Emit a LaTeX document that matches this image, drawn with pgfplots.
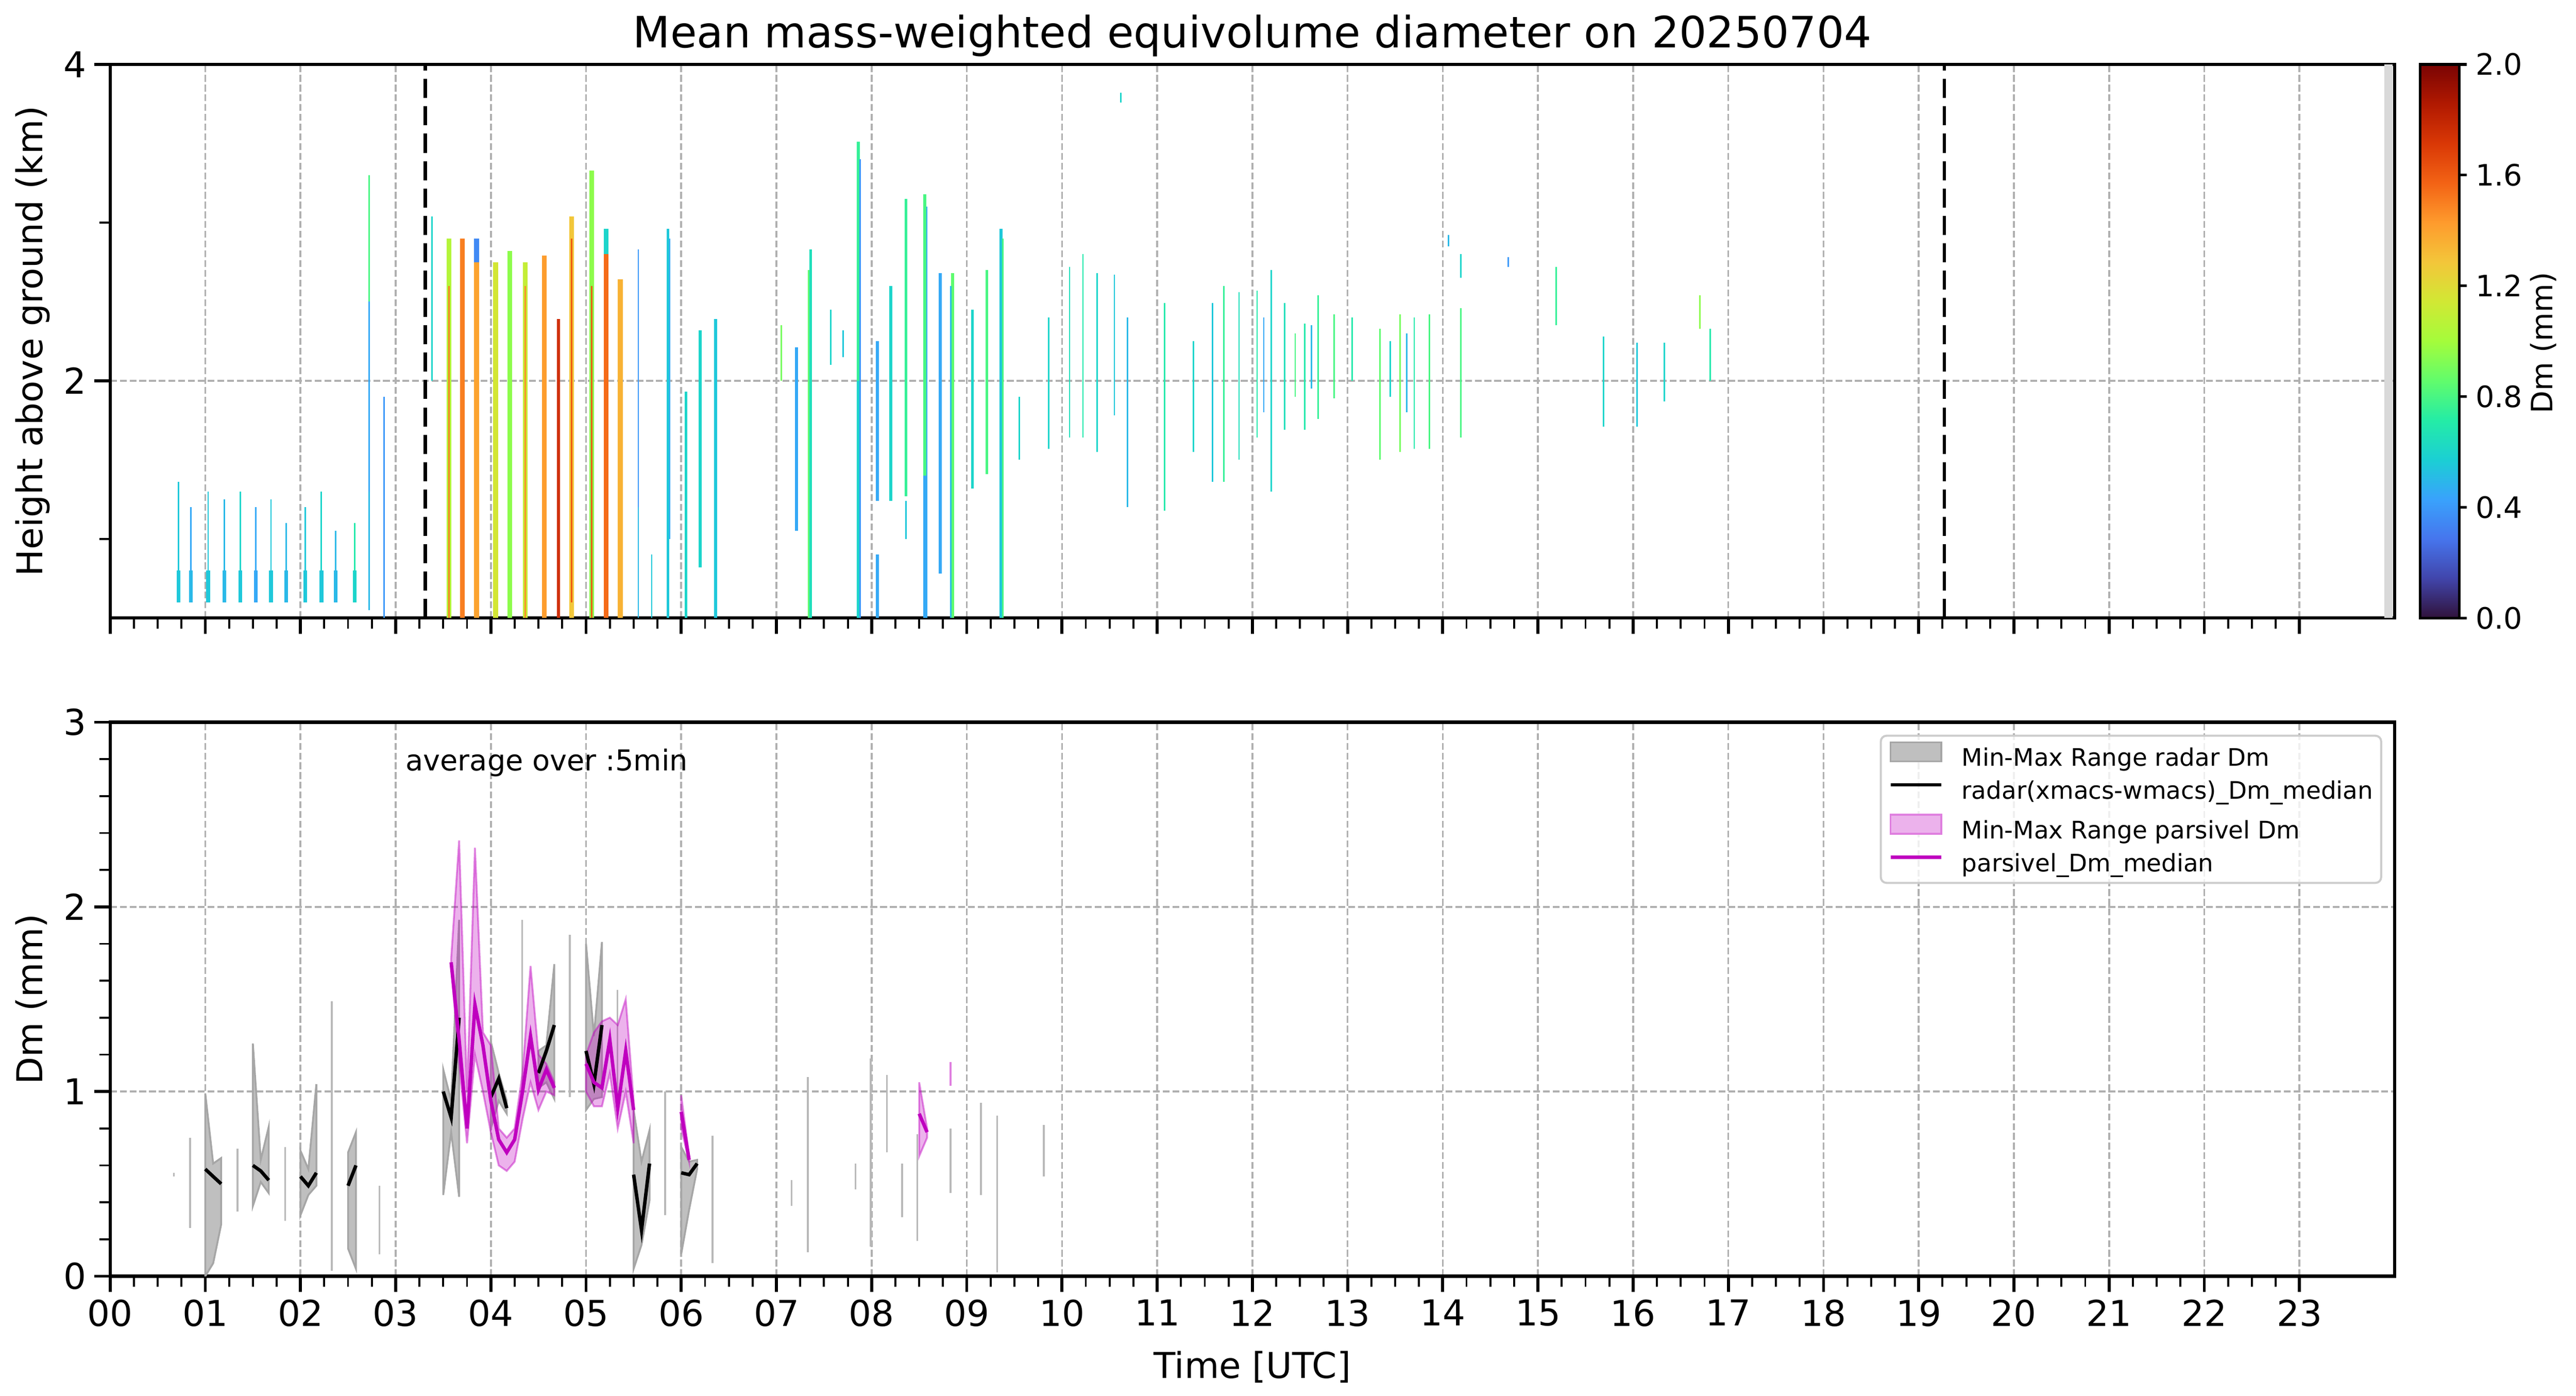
\documentclass[border=0pt]{standalone}
\usepackage{fontspec}
\setmainfont{DejaVu Sans}
\usepackage{pgfplots}
\pgfplotsset{compat=1.18}
\definecolor{gridgray}{RGB}{176,176,176}
\definecolor{radarfill}{RGB}{191,191,191}
\definecolor{radaredge}{RGB}{166,166,166}
\definecolor{singlegray}{RGB}{185,185,185}
\definecolor{mag}{RGB}{191,0,191}
\definecolor{pinkfill}{RGB}{236,178,236}
\definecolor{pinkedge}{RGB}{223,127,223}
\definecolor{stripgray}{RGB}{217,217,217}
\definecolor{legendedge}{RGB}{204,204,204}
\pgfplotsset{
  colormap={turbo}{rgb255=(48,18,59) rgb255=(65,69,171) rgb255=(70,117,237) rgb255=(57,162,252) rgb255=(27,207,212) rgb255=(36,236,166) rgb255=(97,252,108) rgb255=(164,252,59) rgb255=(209,232,52) rgb255=(243,198,58) rgb255=(254,155,45) rgb255=(243,99,21) rgb255=(217,56,6) rgb255=(177,25,1) rgb255=(122,4,3)},
  common/.style={
    scale only axis, width=993.70pt, xmin=0, xmax=24,
    xtick={0,...,23}, minor x tick num=3,
    tick align=outside, xtick pos=left, ytick pos=left,
    major tick length=6.78pt, minor tick length=4.67pt,
    every major tick/.append style={line width=1.3pt, black},
    every minor tick/.append style={line width=0.86pt, black},
    axis line style={line width=1.36pt},
    grid=major,
    major grid style={line width=0.8pt, color=gridgray, dash pattern=on 2.96pt off 1.28pt},
    tick label style={font=\fontsize{15.5}{18.6}\selectfont},
    label style={font=\fontsize{15.5}{18.6}\selectfont},
    /pgf/number format/assume math mode=true,
    ylabel style={at={(axis description cs:-0.0295,0.5)}, anchor=base},
  },
  streak/.style={forget plot, point meta=explicit,
    quiver={u=0, v=\thisrow{y1}-\thisrow{y0}, colored=mapped color,
      every arrow/.append style={-, line cap=butt}}},
  rpoly/.style={forget plot, fill=radarfill, draw=radaredge, line width=0.8pt},
  ppoly/.style={forget plot, fill=mag, fill opacity=0.3, draw=mag, draw opacity=0.45, line width=0.8pt},
  rmed/.style={forget plot, black, line width=1.5pt},
  pmed/.style={forget plot, mag, line width=1.5pt},
}
\begin{document}
\begin{tikzpicture}
\useasboundingbox (0pt,0pt) rectangle (1120.47pt,-606.91pt);
% ---------------- top panel ----------------
\begin{axis}[common, at={(47.88pt,-28.00pt)}, anchor=north west, height=240.75pt,
  ymin=0.5, ymax=4, ytick={2,4}, minor ytick={1,3}, xticklabels={},
  ylabel={Height above ground (km)},
  title={Mean mass-weighted equivolume diameter on 20250704},
  title style={font=\fontsize{18.8}{22}\selectfont, at={(axis description cs:0.5,1)}, anchor=base, yshift=1.2pt},
  colormap name=turbo, point meta min=0, point meta max=2,
]
% right gray strip
\addplot[forget plot, fill=stripgray, draw=none] coordinates {(23.89,0.5) (23.98,0.5) (23.98,4) (23.89,4)} -- cycle;
% wide streaks
\addplot[streak, line width=2.07pt] table[x=x, y=y0, meta=c, row sep=\\] {
x y0 y1 c \\
3.56 0.5 2.90 1.05 \\
3.70 0.5 2.90 1.50 \\
3.85 0.5 2.75 1.40 \\
3.85 2.75 2.90 0.35 \\
4.05 0.5 2.75 1.15 \\
4.20 0.5 2.82 0.95 \\
4.36 0.5 2.75 1.10 \\
4.56 0.5 2.79 1.42 \\
4.85 0.5 3.04 1.28 \\
5.06 0.5 3.33 0.95 \\
5.21 0.5 2.80 1.55 \\
5.21 2.80 2.96 0.60 \\
5.36 0.5 2.64 1.35 \\
};
% low blocks
\addplot[streak, line width=1.66pt] table[x=x, y=y0, meta=c, row sep=\\] {
x y0 y1 c \\
0.72 0.60 0.80 0.55 \\
0.85 0.60 0.80 0.50 \\
1.03 0.60 0.80 0.55 \\
1.20 0.60 0.80 0.50 \\
1.37 0.60 0.80 0.55 \\
1.53 0.60 0.80 0.45 \\
1.69 0.60 0.80 0.55 \\
1.85 0.60 0.80 0.50 \\
2.05 0.60 0.80 0.55 \\
2.22 0.60 0.80 0.55 \\
2.37 0.60 0.80 0.50 \\
2.57 0.60 0.80 0.60 \\
};
% medium streaks
\addplot[streak, line width=1.24pt] table[x=x, y=y0, meta=c, row sep=\\] {
x y0 y1 c \\
4.71 0.5 2.39 1.75 \\
5.86 0.5 2.96 0.55 \\
6.05 0.5 1.93 0.60 \\
6.20 0.82 2.32 0.60 \\
6.36 0.5 2.39 0.55 \\
7.21 1.05 2.21 0.45 \\
7.36 0.5 2.83 0.65 \\
7.86 0.5 2.00 0.60 \\
7.86 2.00 3.51 0.75 \\
8.06 1.24 2.25 0.45 \\
8.06 0.5 0.90 0.45 \\
8.20 1.24 2.60 0.60 \\
8.36 1.27 3.15 0.75 \\
8.56 0.5 1.40 0.45 \\
8.56 1.40 3.18 0.80 \\
8.72 0.78 2.68 0.45 \\
8.85 0.5 2.68 0.85 \\
9.06 1.32 2.45 0.60 \\
9.21 1.41 2.70 0.80 \\
9.36 0.5 2.96 0.55 \\
};
% thin streaks
\addplot[streak, line width=0.62pt] table[x=x, y=y0, meta=c, row sep=\\] {
x y0 y1 c \\
3.56 0.5 2.60 1.50 \\
4.36 0.5 2.60 1.45 \\
5.06 0.5 2.60 1.60 \\
4.85 0.6 2.90 1.60 \\
5.88 1.00 2.90 0.45 \\
7.34 0.50 2.70 0.85 \\
7.88 0.50 3.40 0.40 \\
8.36 1.00 1.24 0.55 \\
8.58 0.50 3.10 0.45 \\
8.83 0.50 2.60 0.50 \\
9.38 0.50 2.90 0.80 \\
0.72 0.80 1.36 0.55 \\
0.85 0.80 1.20 0.45 \\
1.03 0.80 1.30 0.55 \\
1.20 0.80 1.25 0.50 \\
1.37 0.80 1.30 0.60 \\
1.53 0.80 1.20 0.45 \\
1.69 0.80 1.25 0.55 \\
1.85 0.80 1.10 0.50 \\
2.05 0.80 1.20 0.55 \\
2.22 0.80 1.30 0.60 \\
2.37 0.80 1.05 0.50 \\
2.57 0.80 1.10 0.70 \\
2.72 0.55 1.30 0.50 \\
2.72 1.30 2.50 0.45 \\
2.72 2.50 3.30 0.80 \\
2.88 0.50 1.90 0.40 \\
3.38 2.00 3.04 0.60 \\
5.55 0.50 1.20 0.50 \\
5.55 1.20 2.83 0.40 \\
5.69 0.50 0.90 0.55 \\
7.05 2.00 2.35 0.90 \\
7.57 2.10 2.45 0.60 \\
7.70 2.15 2.32 0.55 \\
9.55 1.50 1.90 0.60 \\
9.86 1.57 2.40 0.60 \\
10.08 1.64 2.72 0.65 \\
10.22 1.64 2.80 0.70 \\
10.37 1.55 2.68 0.60 \\
10.55 1.78 2.67 0.55 \\
10.69 1.20 2.40 0.50 \\
10.62 3.76 3.82 0.60 \\
11.08 1.18 2.49 0.70 \\
11.38 1.55 2.25 0.60 \\
11.58 1.36 2.49 0.55 \\
11.70 1.36 2.60 0.75 \\
11.86 1.50 2.56 0.65 \\
12.05 1.64 2.57 0.70 \\
12.12 1.80 2.40 0.45 \\
12.20 1.30 2.70 0.60 \\
12.34 1.69 2.49 0.65 \\
12.45 1.90 2.30 0.80 \\
12.55 1.69 2.36 0.70 \\
12.62 1.95 2.35 0.50 \\
12.69 1.76 2.54 0.75 \\
12.86 1.89 2.42 0.80 \\
13.05 2.00 2.40 0.70 \\
13.34 1.50 2.33 0.85 \\
13.45 1.90 2.25 0.60 \\
13.55 1.55 2.42 0.90 \\
13.62 1.80 2.30 0.50 \\
13.70 1.57 2.40 0.70 \\
13.86 1.57 2.42 0.80 \\
14.19 1.64 2.46 0.80 \\
14.19 2.65 2.80 0.60 \\
14.06 2.85 2.92 0.50 \\
14.69 2.72 2.78 0.40 \\
15.19 2.35 2.72 0.75 \\
15.69 1.71 2.28 0.60 \\
16.04 1.71 2.24 0.55 \\
16.33 1.87 2.24 0.60 \\
16.70 2.33 2.54 0.95 \\
16.81 2.00 2.33 0.70 \\
};
% vertical dashed markers
\addplot[forget plot, black, line width=1.5pt, dash pattern=on 8.3pt off 3.6pt] coordinates {(3.31,0.5) (3.31,4)};
\addplot[forget plot, black, line width=1.5pt, dash pattern=on 8.3pt off 3.6pt] coordinates {(19.27,0.5) (19.27,4)};
\end{axis}
% ---------------- colour bar ----------------
\begin{axis}[at={(1052.72pt,-28.00pt)}, anchor=north west, scale only axis,
  width=17.01pt, height=240.75pt, xmin=0, xmax=1, ymin=0, ymax=2,
  xtick=\empty, ytick={0,0.4,0.8,1.2,1.6,2.0}, yticklabels={},
  ytick pos=right, tick align=outside, major tick length=3.2pt,
  every major tick/.append style={line width=1.2pt, black},
  axis line style={line width=1.2pt}, axis on top,
  colormap name=turbo, point meta min=0, point meta max=2]
\addplot[surf, shader=interp, mesh/rows=2, point meta=y] coordinates {(0,0) (1,0) (0,2) (1,2)};
\end{axis}
% ---------------- bottom panel ----------------
\begin{axis}[common, at={(47.88pt,-314.07pt)}, anchor=north west, height=240.90pt,
  ymin=0, ymax=3, ytick={0,1,2,3}, minor y tick num=4,
  xticklabels={00,01,02,03,04,05,06,07,08,09,10,11,12,13,14,15,16,17,18,19,20,21,22,23},
  xlabel={Time [UTC]},
  xlabel style={at={(axis description cs:0.5,0)}, anchor=base, yshift=-44.3pt},
  ylabel={Dm (mm)},
  legend cell align=left,
  legend style={at={(axis description cs:1,1)}, anchor=north east, xshift=-5.42pt, yshift=-5.42pt,
    draw=legendedge, line width=0.9pt, rounded corners=2.5pt,
    fill=white, fill opacity=0.8, draw opacity=1, text opacity=1,
    font=\fontsize{10.5}{12.6}\selectfont,
    inner xsep=3.5pt, inner ysep=2.5pt, row sep=4pt, column sep=8.1pt,
    nodes={inner sep=0pt, text height=7.8pt, text depth=2.5pt}},
]
\addlegendimage{legend image code/.code={\draw[fill=radarfill, fill opacity=1, draw=radaredge, line width=0.8pt, sharp corners] (0pt,-0.65pt) rectangle (22.1pt,7.65pt);}}
\addlegendentry{Min-Max Range radar Dm}
\addlegendimage{legend image code/.code={\draw[black, line width=1.5pt, sharp corners] (0pt,3.5pt) -- (22.1pt,3.5pt);}}
\addlegendentry{radar(xmacs-wmacs)\_Dm\_median}
\addlegendimage{legend image code/.code={\draw[fill=pinkfill, fill opacity=1, draw=pinkedge, line width=0.8pt, sharp corners] (0pt,-0.65pt) rectangle (22.1pt,7.65pt);}}
\addlegendentry{Min-Max Range parsivel Dm}
\addlegendimage{legend image code/.code={\draw[mag, line width=1.5pt, sharp corners] (0pt,3.5pt) -- (22.1pt,3.5pt);}}
\addlegendentry{parsivel\_Dm\_median}
% radar single-sample ranges
\addplot[forget plot, draw=singlegray, line width=0.8pt,
  quiver={u=0, v=\thisrow{hi}-\thisrow{lo}, every arrow/.append style={-, line cap=butt}}]
  table[x=x, y=lo, row sep=\\] {
x lo hi \\
0.67 0.54 0.56 \\
0.84 0.26 0.75 \\
1.34 0.35 0.69 \\
1.84 0.30 0.70 \\
2.33 0.03 1.49 \\
2.83 0.12 0.49 \\
4.33 0.95 1.93 \\
4.83 0.97 1.85 \\
5.33 0.95 1.55 \\
5.83 0.33 1.00 \\
6.33 0.07 0.76 \\
7.16 0.38 0.52 \\
7.33 0.13 1.08 \\
7.83 0.47 0.61 \\
7.99 0.16 1.18 \\
8.16 0.67 1.09 \\
8.32 0.32 0.61 \\
8.48 0.19 0.77 \\
8.83 0.45 0.80 \\
9.15 0.44 0.94 \\
9.32 0.02 0.87 \\
9.81 0.54 0.82 \\
};
% radar min-max bands
\addplot[rpoly] coordinates {(1.0,0.99) (1.083,0.61) (1.167,0.64) (1.167,0.28) (1.083,0.07) (1.0,0.0)} -- cycle;
\addplot[rpoly] coordinates {(1.5,1.26) (1.583,0.63) (1.667,0.81) (1.667,0.45) (1.583,0.51) (1.5,0.38)} -- cycle;
\addplot[rpoly] coordinates {(2.0,0.68) (2.083,0.58) (2.167,1.04) (2.167,0.49) (2.083,0.44) (2.0,0.33)} -- cycle;
\addplot[rpoly] coordinates {(2.5,0.67) (2.583,0.78) (2.583,0.04) (2.5,0.15)} -- cycle;
\addplot[rpoly] coordinates {(3.5,1.12) (3.583,0.95) (3.667,1.93) (3.667,0.43) (3.583,0.78) (3.5,0.44)} -- cycle;
\addplot[rpoly] coordinates {(4.0,1.27) (4.083,1.10) (4.167,0.95) (4.167,0.88) (4.083,0.95) (4.0,0.80)} -- cycle;
\addplot[rpoly] coordinates {(4.5,1.22) (4.583,1.25) (4.667,1.69) (4.667,0.96) (4.583,1.05) (4.5,1.02)} -- cycle;
\addplot[rpoly] coordinates {(5.0,1.80) (5.083,1.30) (5.167,1.81) (5.167,0.97) (5.083,0.96) (5.0,0.90)} -- cycle;
\addplot[rpoly] coordinates {(5.5,0.90) (5.583,0.62) (5.667,0.79) (5.667,0.41) (5.583,0.17) (5.5,0.04)} -- cycle;
\addplot[rpoly] coordinates {(6.0,0.70) (6.083,0.62) (6.167,0.63) (6.167,0.58) (6.083,0.36) (6.0,0.12)} -- cycle;
% parsivel min-max bands
\addplot[ppoly] coordinates {(3.583,1.72) (3.667,2.36) (3.750,1.00) (3.833,2.32) (3.917,1.32) (4.000,1.25) (4.083,0.80) (4.167,0.75) (4.250,0.80) (4.333,1.10) (4.417,1.68) (4.500,1.20) (4.583,1.15) (4.667,1.05)
 (4.667,0.98) (4.583,1.00) (4.500,0.90) (4.417,1.05) (4.333,0.85) (4.250,0.62) (4.167,0.57) (4.083,0.60) (4.000,0.78) (3.917,1.00) (3.833,1.20) (3.750,0.72) (3.667,1.15) (3.583,1.68)} -- cycle;
\addplot[ppoly] coordinates {(5.000,1.20) (5.083,1.32) (5.167,1.38) (5.250,1.40) (5.333,1.36) (5.417,1.50) (5.500,0.95)
 (5.500,0.72) (5.417,1.00) (5.333,0.80) (5.250,1.10) (5.167,0.92) (5.083,0.92) (5.000,1.00)} -- cycle;
\addplot[ppoly] coordinates {(6.0,0.98) (6.083,0.65) (6.083,0.62) (6.0,0.80)} -- cycle;
\addplot[ppoly] coordinates {(8.5,1.05) (8.583,0.80) (8.583,0.75) (8.5,0.65)} -- cycle;
\addplot[forget plot, draw=pinkedge, line width=0.8pt] coordinates {(8.83,1.03) (8.83,1.16)};
% radar medians
\addplot[rmed] coordinates {(1.0,0.58) (1.083,0.54) (1.167,0.50)};
\addplot[rmed] coordinates {(1.5,0.60) (1.583,0.57) (1.667,0.52)};
\addplot[rmed] coordinates {(2.0,0.54) (2.083,0.49) (2.167,0.56)};
\addplot[rmed] coordinates {(2.5,0.49) (2.583,0.60)};
\addplot[rmed] coordinates {(3.5,1.00) (3.583,0.86) (3.667,1.40)};
\addplot[rmed] coordinates {(4.0,0.97) (4.083,1.07) (4.167,0.91)};
\addplot[rmed] coordinates {(4.5,1.10) (4.583,1.22) (4.667,1.36)};
\addplot[rmed] coordinates {(5.0,1.22) (5.083,1.04) (5.167,1.36)};
\addplot[rmed] coordinates {(5.5,0.55) (5.583,0.25) (5.667,0.61)};
\addplot[rmed] coordinates {(6.0,0.56) (6.083,0.55) (6.167,0.61)};
% parsivel medians
\addplot[pmed] coordinates {(3.583,1.70) (3.667,1.28) (3.750,0.80) (3.833,1.47) (3.917,1.25) (4.000,0.95) (4.083,0.74) (4.167,0.67) (4.250,0.74) (4.333,1.00) (4.417,1.30) (4.500,1.01) (4.583,1.12) (4.667,1.02)};
\addplot[pmed] coordinates {(5.000,1.15) (5.083,1.05) (5.167,1.02) (5.250,1.28) (5.333,0.91) (5.417,1.22) (5.500,0.90)};
\addplot[pmed] coordinates {(6.0,0.89) (6.083,0.63)};
\addplot[pmed] coordinates {(8.5,0.88) (8.583,0.78)};
\node[anchor=west, font=\fontsize{12.5}{15}\selectfont] at (axis cs:3.02,2.78) {average over :5min};
\end{axis}
% colorbar tick labels and label
\begin{scope}[every node/.style={anchor=west, inner sep=0pt, font=\fontsize{12.8}{15}\selectfont}]
\node at (1076.66pt,-268.75pt) {0.0};
\node at (1076.66pt,-220.60pt) {0.4};
\node at (1076.66pt,-172.45pt) {0.8};
\node at (1076.66pt,-124.30pt) {1.2};
\node at (1076.66pt,-76.15pt) {1.6};
\node at (1076.66pt,-28.00pt) {2.0};
\end{scope}
\node[rotate=90, font=\fontsize{12.8}{15}\selectfont] at (1106.3pt,-149.1pt) {Dm (mm)};
\end{tikzpicture}
\end{document}
